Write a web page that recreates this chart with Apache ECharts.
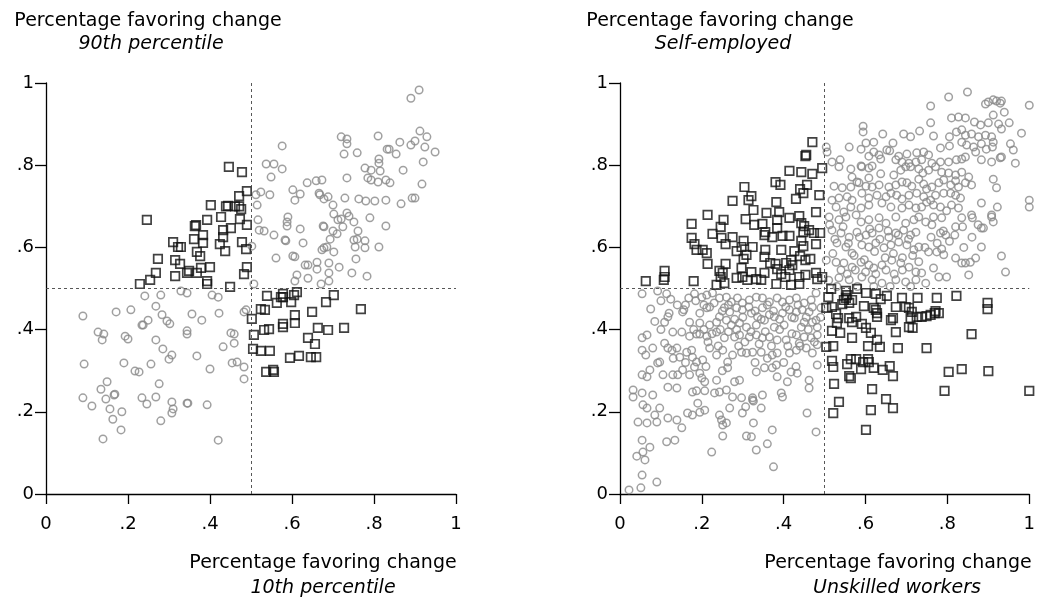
<!DOCTYPE html>
<html><head><meta charset="utf-8">
<script src="https://cdn.jsdelivr.net/npm/echarts@6/dist/echarts.min.js"></script>
<style>html,body{margin:0;padding:0;background:#fff}#c{width:1038px;height:599px}</style>
</head><body><div id="c"></div>
<script>
// Tick values / labels
const tickValues = [0, 0.2, 0.4, 0.6, 0.8, 1];
const tickLabels = ['0', '.2', '.4', '.6', '.8', '1'];
const leftTitleY = ['Percentage favoring change', '90th percentile'];
const leftTitleX = ['Percentage favoring change', '10th percentile'];
const rightTitleY = ['Percentage favoring change', 'Self-employed'];
const rightTitleX = ['Percentage favoring change', 'Unskilled workers'];

// Left panel: 10th percentile (x) vs 90th percentile (y)
const leftSquares = [
[.446,.796],[.478,.783],[.49,.737],[.471,.725],[.402,.703],[.439,.70],[.444,.701],[.461,.70],[.471,.70],[.476,.693],[.427,.674],[.473,.669],[.393,.667],[.246,.667],[.363,.652],[.366,.654],[.49,.655],[.451,.647],[.432,.642],[.383,.630],[.361,.620],[.432,.625],[.310,.613],[.383,.611],[.478,.613],[.424,.608],[.322,.601],[.329,.601],[.437,.591],[.488,.596],[.368,.589],[.376,.579],[.273,.572],[.315,.569],[.327,.560],[.40,.552],[.378,.550],[.49,.552],[.268,.538],[.349,.543],[.344,.538],[.368,.538],[.315,.530],[.483,.535],[.254,.521],[.229,.511],[.393,.518],[.393,.511],[.449,.504],
[.539,.482],[.578,.487],[.578,.479],[.573,.479],[.612,.491],[.605,.484],[.563,.465],[.598,.467],[.702,.484],[.683,.467],[.768,.450],[.524,.450],[.534,.448],[.502,.426],[.607,.435],[.649,.443],[.578,.414],[.578,.406],[.607,.416],[.532,.399],[.544,.401],[.663,.404],[.688,.399],[.727,.404],[.507,.387],[.639,.380],[.656,.365],[.505,.353],[.524,.348],[.546,.348],[.595,.331],[.617,.336],[.646,.333],[.659,.333],[.537,.297],[.554,.302],[.556,.297]
];
const leftCircles = [
[.910,.983],[.890,.963],[.576,.847],[.720,.869],[.734,.864],[.734,.852],[.810,.871],[.727,.827],[.759,.830],[.912,.883],[.929,.869],[.900,.859],[.863,.856],[.890,.849],[.924,.844],[.949,.832],[.832,.839],[.837,.839],[.854,.827],[.812,.815],[.812,.805],[.920,.808],[.537,.803],[.556,.803],[.576,.791],[.549,.771],[.778,.793],[.793,.788],[.815,.786],[.871,.788],[.734,.769],[.785,.769],[.793,.764],[.810,.759],[.829,.764],[.839,.757],[.917,.754],[.637,.757],[.659,.762],[.673,.764],[.602,.740],[.620,.730],[.666,.732],[.668,.728],[.688,.723],[.678,.718],[.607,.715],[.546,.728],[.524,.735],[.512,.728],[.515,.703],[.729,.720],[.763,.718],[.780,.713],[.802,.713],[.829,.715],[.866,.706],[.893,.720],[.9,.720],[.700,.703],[.590,.674],[.588,.662],[.588,.652],[.702,.681],[.734,.684],[.739,.676],[.712,.667],[.720,.669],[.751,.662],[.790,.672],[.829,.652],[.517,.667],[.520,.642],[.532,.640],[.556,.630],[.676,.652],[.678,.650],[.724,.650],[.620,.645],[.700,.640],[.710,.633],[.761,.640],[.583,.618],[.585,.616],[.693,.620],[.759,.620],[.778,.616],[.751,.618],[.627,.611],[.673,.594],[.678,.599],[.685,.601],[.702,.589],[.754,.601],[.778,.599],[.812,.601],[.502,.603],[.561,.574],[.602,.579],[.607,.577],[.756,.572],[.632,.557],[.639,.557],[.661,.564],[.661,.547],[.690,.562],[.715,.552],[.690,.538],[.690,.518],[.612,.533],[.607,.518],[.639,.525],[.671,.511],[.746,.538],[.783,.530],[.507,.511],
[.241,.482],[.280,.484],[.329,.494],[.344,.489],[.405,.484],[.420,.479],[.268,.457],[.090,.433],[.171,.443],[.207,.448],[.283,.436],[.295,.421],[.302,.414],[.249,.423],[.237,.411],[.234,.411],[.356,.438],[.380,.423],[.422,.440],[.483,.443],[.488,.448],[.344,.397],[.344,.389],[.127,.394],[.141,.389],[.137,.375],[.193,.384],[.200,.377],[.268,.375],[.285,.353],[.307,.338],[.300,.328],[.368,.336],[.432,.358],[.451,.392],[.459,.389],[.459,.367],[.093,.316],[.190,.319],[.217,.299],[.227,.297],[.256,.316],[.400,.304],[.454,.319],[.466,.321],[.483,.309],[.483,.280],[.149,.273],[.134,.255],[.276,.268],[.090,.234],[.112,.214],[.146,.231],[.156,.207],[.166,.241],[.168,.243],[.185,.200],[.163,.182],[.183,.156],[.234,.234],[.246,.219],[.268,.236],[.307,.224],[.310,.207],[.307,.197],[.280,.178],[.344,.221],[.346,.221],[.393,.217],[.139,.134],[.420,.131]
];

// Right panel: unskilled workers (x) vs self-employed (y)
const rightSquares = [
[.470,.856],[.455,.825],[.453,.822],[.494,.793],[.414,.786],[.443,.783],[.470,.779],[.380,.759],[.392,.752],[.440,.742],[.457,.752],[.448,.732],[.304,.747],[.321,.725],[.314,.715],[.275,.713],[.382,.710],[.487,.727],[.430,.718],[.214,.679],[.175,.657],[.253,.667],[.246,.650],[.326,.691],[.358,.684],[.389,.686],[.307,.669],[.328,.655],[.348,.657],[.355,.637],[.353,.630],[.384,.667],[.384,.647],[.414,.672],[.438,.676],[.443,.659],[.450,.652],[.448,.637],[.479,.686],[.462,.642],[.474,.635],[.489,.635],[.226,.633],[.248,.623],[.258,.608],[.275,.625],[.175,.623],[.182,.608],[.187,.594],[.202,.594],[.212,.586],[.302,.616],[.297,.601],[.372,.625],[.397,.628],[.414,.628],[.443,.616],[.448,.603],[.479,.608],[.214,.560],[.258,.560],[.285,.591],[.309,.582],[.302,.572],[.324,.601],[.355,.594],[.353,.577],[.394,.594],[.426,.591],[.418,.569],[.406,.562],[.440,.579],[.453,.569],[.465,.572],[.367,.562],[.380,.560],[.384,.547],[.109,.543],[.109,.528],[.107,.521],[.063,.518],[.180,.518],[.243,.543],[.251,.538],[.246,.528],[.285,.526],[.299,.528],[.311,.521],[.297,.550],[.321,.540],[.333,.523],[.345,.521],[.353,.538],[.394,.535],[.404,.528],[.414,.545],[.421,.557],[.438,.528],[.453,.533],[.479,.538],[.482,.523],[.494,.528],[.236,.509],[.255,.513],[.382,.511],[.418,.509],[.438,.511],
[.516,.499],[.509,.479],[.552,.494],[.552,.477],[.547,.472],[.543,.462],[.560,.465],[.567,.472],[.555,.484],[.579,.499],[.601,.489],[.625,.487],[.652,.482],[.637,.474],[.689,.477],[.727,.477],[.774,.477],[.822,.482],[.898,.465],[.898,.450],[.504,.453],[.518,.455],[.596,.457],[.620,.453],[.625,.448],[.628,.440],[.628,.431],[.674,.455],[.698,.455],[.706,.453],[.713,.443],[.710,.428],[.725,.431],[.737,.431],[.749,.433],[.759,.436],[.769,.440],[.771,.445],[.779,.440],[.528,.438],[.533,.428],[.530,.416],[.560,.428],[.577,.431],[.567,.418],[.591,.414],[.601,.404],[.662,.423],[.667,.428],[.706,.406],[.715,.404],[.518,.397],[.538,.392],[.613,.392],[.674,.394],[.859,.389],[.567,.380],[.628,.375],[.504,.358],[.521,.360],[.606,.360],[.635,.358],[.679,.355],[.749,.355],[.518,.324],[.521,.309],[.555,.316],[.564,.328],[.577,.328],[.594,.321],[.606,.328],[.608,.321],[.589,.304],[.620,.307],[.642,.302],[.659,.311],[.560,.287],[.564,.282],[.667,.287],[.803,.297],[.835,.304],[.900,.299],[.523,.268],[.616,.255],[.793,.251],[1.0,.251],[.535,.224],[.521,.197],[.650,.231],[.667,.209],[.613,.204],[.601,.156]
];
const rightCircles = [
[.849,.978],[.803,.966],[.759,.944],[.893,.949],[.900,.954],[.912,.959],[.920,.956],[.929,.951],[.932,.956],[1.0,.946],[.939,.929],[.912,.922],[.810,.915],[.827,.917],[.844,.915],[.866,.905],[.881,.898],[.900,.903],[.925,.900],[.951,.903],[.594,.895],[.594,.881],[.759,.903],[.642,.876],[.693,.876],[.710,.869],[.732,.883],[.766,.871],[.805,.869],[.822,.881],[.835,.886],[.844,.873],[.859,.876],[.876,.869],[.893,.873],[.908,.869],[.932,.888],[.981,.878],
[.601,.854],[.620,.856],[.560,.844],[.589,.839],[.667,.854],[.652,.837],[.659,.835],[.783,.842],[.805,.847],[.835,.856],[.847,.849],[.864,.844],[.869,.832],[.883,.852],[.895,.839],[.912,.856],[.910,.844],[.954,.852],[.961,.837],[.932,.820],[.504,.844],[.506,.832],[.608,.822],[.633,.825],[.637,.815],[.620,.832],[.681,.822],[.701,.827],[.725,.830],[.742,.832],[.754,.825],[.674,.813],[.689,.808],[.706,.805],[.723,.808],[.737,.813],[.518,.808],[.538,.813],[.535,.796],[.564,.791],[.589,.798],[.762,.805],[.783,.808],[.803,.808],[.822,.813],[.835,.815],[.844,.820],[.883,.813],[.908,.808],[.929,.818],[.966,.805],[.591,.796],[.608,.793],[.616,.798],[.637,.779],[.669,.776],[.686,.788],[.698,.796],[.710,.796],[.730,.791],[.740,.781],[.754,.788],[.771,.796],[.786,.783],[.803,.781],[.820,.776],[.835,.783],[.852,.771],[.567,.771],[.579,.759],[.608,.769],[.912,.766],[.920,.745],[.523,.749],[.543,.745],[.564,.747],[.584,.757],[.601,.749],[.616,.747],[.633,.752],[.657,.747],[.674,.752],[.689,.759],[.701,.757],[.713,.749],[.730,.766],[.742,.754],[.749,.742],[.762,.747],[.779,.757],[.791,.764],[.808,.752],[.820,.762],[.827,.747],[.844,.757],[.859,.752],
[.518,.715],[.535,.720],[.555,.723],[.567,.715],[.591,.732],[.608,.720],[.628,.727],[.650,.723],[.662,.732],[.676,.727],[.689,.718],[.706,.727],[.725,.732],[.742,.723],[.759,.715],[.771,.727],[.791,.732],[.808,.732],[.820,.727],[.832,.720],[1.0,.715],[1.0,.698],[.883,.708],[.922,.698],[.908,.679],[.528,.698],[.547,.686],[.564,.698],[.589,.696],[.608,.703],[.640,.708],[.662,.698],[.674,.674],[.689,.696],[.706,.703],[.723,.696],[.737,.698],[.749,.710],[.766,.703],[.783,.698],[.798,.689],[.810,.703],[.827,.696],[.511,.674],[.535,.667],[.552,.674],[.577,.679],[.589,.662],[.608,.667],[.633,.672],[.650,.659],[.698,.659],[.718,.667],[.730,.674],[.747,.662],[.766,.674],[.786,.672],[.835,.672],[.859,.679],[.861,.672],[.908,.674],[.912,.662],
[.518,.642],[.540,.635],[.560,.625],[.579,.637],[.601,.630],[.616,.635],[.633,.647],[.657,.625],[.674,.635],[.693,.642],[.710,.630],[.723,.637],[.762,.655],[.783,.635],[.796,.630],[.818,.630],[.837,.650],[.883,.647],[.888,.647],[.530,.611],[.552,.601],[.567,.586],[.591,.606],[.608,.601],[.625,.611],[.645,.599],[.662,.606],[.681,.613],[.701,.606],[.718,.594],[.730,.601],[.754,.589],[.774,.589],[.786,.596],[.791,.582],[.820,.574],[.844,.562],[.856,.564],[.869,.574],[.883,.601],[.932,.579],[.942,.540],[.504,.569],[.528,.564],[.547,.562],[.567,.552],[.589,.564],[.608,.557],[.620,.550],[.640,.557],[.664,.569],[.686,.562],[.706,.552],[.723,.540],[.737,.538],[.766,.550],[.779,.528],[.798,.528],[.835,.562],[.852,.533],[.535,.526],[.560,.521],[.591,.528],[.616,.521],[.640,.513],[.674,.521],[.698,.516],[.723,.521],[.747,.513],
[.512,.655],[.525,.620],[.545,.650],[.558,.610],[.572,.580],[.585,.625],[.597,.570],[.610,.645],[.622,.590],[.635,.620],[.648,.575],[.655,.640],[.668,.585],[.680,.630],[.690,.575],[.705,.620],[.715,.580],[.520,.585],[.540,.545],[.555,.535],[.575,.545],[.600,.540],[.625,.535],[.650,.545],[.670,.535],[.690,.545],[.710,.505],[.730,.565],[.745,.600],[.760,.625],[.775,.610],[.790,.640],[.805,.615],[.820,.650],[.840,.600],[.860,.625],[.875,.655],[.510,.520],[.530,.505],[.580,.505],[.620,.505],[.660,.505],
[.054,.487],[.092,.494],[.114,.487],[.124,.474],[.075,.450],[.156,.448],[.153,.443],[.168,.477],[.182,.487],[.200,.479],[.212,.484],[.226,.489],[.243,.477],[.260,.479],[.272,.467],[.287,.477],[.299,.465],[.316,.472],[.333,.479],[.348,.477],[.365,.467],[.384,.477],[.397,.467],[.414,.472],[.431,.477],[.450,.465],[.467,.472],[.479,.489],[.195,.440],[.212,.453],[.219,.455],[.243,.431],[.255,.453],[.268,.443],[.285,.453],[.299,.448],[.321,.440],[.336,.431],[.348,.453],[.365,.436],[.377,.431],[.397,.440],[.414,.448],[.431,.443],[.445,.448],[.462,.443],[.479,.423],[.491,.453],[.109,.418],[.117,.431],[.170,.418],[.195,.416],[.219,.411],[.236,.418],[.260,.423],[.272,.411],[.292,.416],[.309,.406],[.333,.411],[.353,.423],[.377,.406],[.401,.411],[.426,.428],[.443,.406],[.450,.418],[.470,.418],[.482,.406],[.054,.380],[.066,.387],
[.129,.394],[.151,.394],[.170,.384],[.187,.389],[.195,.389],[.212,.384],[.236,.394],[.255,.380],[.280,.382],[.292,.387],[.316,.382],[.333,.387],[.348,.380],[.365,.382],[.384,.375],[.406,.375],[.431,.387],[.450,.382],[.467,.380],[.482,.387],[.054,.350],[.063,.338],[.080,.355],[.109,.367],[.117,.355],[.127,.350],[.139,.355],[.146,.333],[.163,.345],[.175,.350],[.177,.333],[.187,.321],[.202,.326],[.219,.355],[.236,.338],[.251,.350],[.263,.321],[.275,.338],[.297,.345],[.309,.343],[.324,.345],[.345,.345],[.372,.338],[.384,.343],[.414,.343],[.431,.350],[.438,.367],[.455,.355],[.470,.343],[.482,.363],
[.160,.460],[.185,.470],[.205,.460],[.230,.465],[.250,.445],[.265,.460],[.280,.425],[.300,.430],[.315,.455],[.330,.445],[.345,.425],[.360,.460],[.375,.445],[.390,.425],[.405,.455],[.420,.430],[.435,.460],[.455,.430],[.470,.455],[.490,.430],[.180,.400],[.205,.400],[.225,.390],[.245,.400],[.265,.395],[.285,.400],[.305,.370],[.320,.395],[.340,.365],[.355,.395],[.370,.360],[.390,.400],[.410,.360],[.420,.390],[.440,.360],[.460,.400],[.475,.370],[.120,.440],[.140,.460],[.100,.470],[.085,.420],[.100,.400],[.215,.370],[.240,.360],[.290,.360],[.330,.320],[.360,.330],[.400,.320],[.430,.310],[.250,.300],[.210,.310],[.160,.320],[.130,.330],
[.097,.321],[.092,.319],[.073,.302],[.054,.290],[.066,.285],[.105,.290],[.129,.290],[.141,.290],[.153,.302],[.170,.290],[.182,.309],[.195,.294],[.200,.282],[.207,.273],[.236,.277],[.263,.307],[.280,.273],[.292,.277],[.333,.297],[.353,.307],[.372,.307],[.382,.314],[.384,.285],[.409,.273],[.418,.297],[.433,.294],[.462,.277],[.482,.314],[.032,.253],[.032,.236],[.054,.246],[.080,.241],[.117,.260],[.139,.258],[.177,.248],[.187,.251],[.207,.251],[.231,.246],[.243,.248],[.260,.253],[.275,.236],[.297,.234],[.324,.234],[.326,.226],[.348,.241],[.394,.246],[.397,.236],[.462,.258],
[.056,.217],[.066,.209],[.085,.192],[.097,.209],[.117,.185],[.139,.180],[.151,.161],[.090,.175],[.044,.175],[.066,.173],[.165,.197],[.177,.192],[.190,.221],[.195,.199],[.207,.204],[.243,.192],[.248,.180],[.251,.168],[.260,.173],[.268,.209],[.299,.197],[.307,.212],[.324,.229],[.345,.209],[.457,.197],[.479,.151],[.134,.131],[.114,.127],[.054,.131],[.073,.114],[.056,.102],[.041,.092],[.061,.083],[.372,.156],[.360,.122],[.333,.107],[.326,.173],[.309,.141],[.321,.139],[.251,.141],[.224,.102],[.054,.046],[.090,.029],[.051,.015],[.022,.010],[.375,.066]
];

const FONT = '"DejaVu Sans"';
const axisFont = {fontFamily:'DejaVu Sans', fontSize:18, color:'#000'};
function fmt(v){ const i = tickValues.findIndex(t => Math.abs(t - v) < 1e-6); return i >= 0 ? tickLabels[i] : ''; }
function xAxisCfg(idx){ return {gridIndex:idx, type:'value', min:0, max:1, interval:0.2,
  axisLine:{show:true, onZero:false, lineStyle:{color:'#000', width:1.3}},
  axisTick:{show:true, length:10, lineStyle:{color:'#000', width:1.3}},
  axisLabel:Object.assign({margin:21, formatter:fmt}, axisFont), splitLine:{show:false}}; }
function yAxisCfg(idx){ return {gridIndex:idx, type:'value', min:0, max:1, interval:0.2,
  axisLine:{show:true, onZero:false, lineStyle:{color:'#000', width:1.3}},
  axisTick:{show:true, length:11, lineStyle:{color:'#000', width:1.3}},
  axisLabel:Object.assign({margin:12, formatter:fmt}, axisFont), splitLine:{show:false}}; }
const refLines = {silent:true, symbol:'none', label:{show:false},
  lineStyle:{type:[3,3], color:'#444', width:0.9}, data:[{xAxis:0.5},{yAxis:0.5}]};
function sq(data, gi){ return {type:'scatter', xAxisIndex:gi, yAxisIndex:gi, data:data, symbol:'rect', symbolSize:8.5,
  itemStyle:{color:'rgba(0,0,0,0)', borderColor:'#111', borderWidth:1.7}, emphasis:{disabled:true}, animation:false}; }
function ci(data, gi){ return {type:'scatter', xAxisIndex:gi, yAxisIndex:gi, data:data, symbol:'circle', symbolSize:7.5,
  itemStyle:{color:'rgba(0,0,0,0)', borderColor:'#888', borderWidth:1.5}, emphasis:{disabled:true}, animation:false,
  markLine:refLines}; }
function txt(x, y, s, italic){ return {type:'text', x:x, y:y, silent:true, style:{text:s, x:0, y:0, textAlign:'center', textVerticalAlign:'middle',
  font:(italic?'italic ':'') + '19px ' + FONT, fill:'#000'}}; }

const chart = echarts.init(document.getElementById('c'), null, {renderer:'canvas'});
chart.setOption({
  animation:false,
  backgroundColor:'#fff',
  grid:[{left:46, top:83, width:410, height:411}, {left:620, top:83, width:411, height:411}],
  xAxis:[xAxisCfg(0), xAxisCfg(1)],
  yAxis:[yAxisCfg(0), yAxisCfg(1)],
  series:[ci(leftCircles,0), sq(leftSquares,0), ci(rightCircles,1), sq(rightSquares,1)],
  graphic:[
    txt(148,21,leftTitleY[0]), txt(151,44,leftTitleY[1],true),
    txt(720,21,rightTitleY[0]), txt(723,44,rightTitleY[1],true),
    txt(323,563,leftTitleX[0]), txt(323,588,leftTitleX[1],true),
    txt(898,563,rightTitleX[0]), txt(897,588,rightTitleX[1],true)
  ]
});
</script></body></html>
